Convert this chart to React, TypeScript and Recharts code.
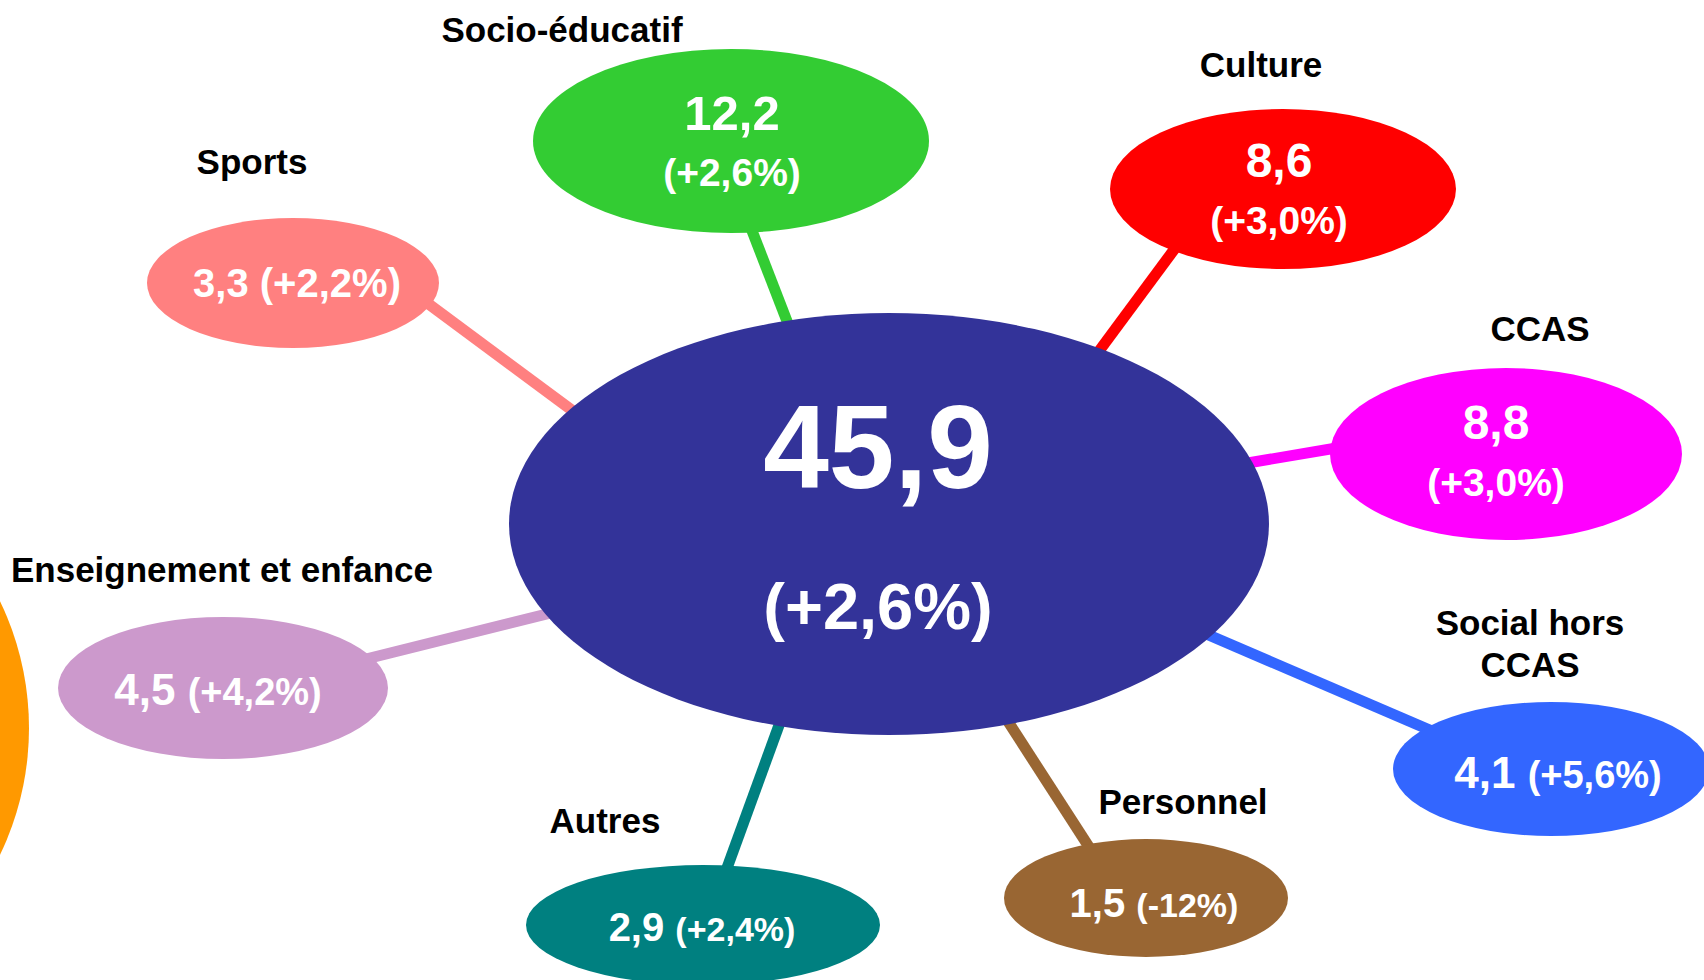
import React from 'react'
import { ScatterChart, Scatter, XAxis, YAxis } from 'recharts'

const W = 1704
const H = 980
const FONT = '"Liberation Sans", Arial, sans-serif'

// chart values
const categories = [
  'Socio-éducatif',
  'Culture',
  'CCAS',
  'Social hors CCAS',
  'Personnel',
  'Autres',
  'Enseignement et enfance',
  'Sports',
]
const amounts = [12.2, 8.6, 8.8, 4.1, 1.5, 2.9, 4.5, 3.3]
const changes = ['+2,6%', '+3,0%', '+3,0%', '+5,6%', '-12%', '+2,4%', '+4,2%', '+2,2%']
const labelLines = [
  ['Socio-éducatif'],
  ['Culture'],
  ['CCAS'],
  ['Social hors', 'CCAS'],
  ['Personnel'],
  ['Autres'],
  ['Enseignement et enfance'],
  ['Sports'],
]
const total = 45.9
const totalChange = '+2,6%'

// layout (pixels, chart domain is 1:1 with the svg)
const colors = ['#33CC33', '#FF0000', '#FF00FF', '#3366FF', '#996633', '#008080', '#CC99CC', '#FF8080']
const bubbleBoxes = [
  { x: 731, y: 141, rx: 198, ry: 92, dx: 1, dy: -29, stacked: true, num: 49, chg: 39 },
  { x: 1283, y: 189, rx: 173, ry: 80, dx: -4, dy: -29, stacked: true, num: 48, chg: 39 },
  { x: 1506, y: 454, rx: 176, ry: 86, dx: -10, dy: -32, stacked: true, num: 48, chg: 39 },
  { x: 1551, y: 769, rx: 158, ry: 67, dx: 7, dy: 3, stacked: false, num: 44, chg: 38 },
  { x: 1146, y: 898, rx: 142, ry: 59, dx: 8, dy: 5, stacked: false, num: 40, chg: 34 },
  { x: 703, y: 925, rx: 177, ry: 60, dx: -1, dy: 2, stacked: false, num: 40, chg: 34 },
  { x: 223, y: 688, rx: 165, ry: 71, dx: -5, dy: 1, stacked: false, num: 44, chg: 38 },
  { x: 293, y: 283, rx: 146, ry: 65, dx: 4, dy: 0, stacked: false, num: 40, chg: 40 },
]
const labelPositions = [
  { x: 562, y: 29 },
  { x: 1261, y: 64 },
  { x: 1540, y: 328 },
  { x: 1530, y: 622 },
  { x: 1183, y: 801 },
  { x: 605, y: 820 },
  { x: 222, y: 569 },
  { x: 252, y: 161 },
]
const connectors = [
  [744, 210, 802, 360],
  [1196, 220, 1085, 370],
  [1230, 466, 1360, 444],
  [1190, 627, 1460, 743],
  [998, 706, 1100, 864],
  [786, 706, 719, 890],
  [350, 663, 575, 607],
  [399, 282, 600, 431],
]
const centerBox = { x: 889, y: 524, rx: 380, ry: 211, dx: -11 }
const sideBubble = { x: -263, y: 728, rx: 292, ry: 292 }

const fmt = (v: number) => v.toFixed(1).replace('.', ',')

const bubbleRows = categories.map((name, i) => ({
  ...bubbleBoxes[i],
  name,
  amount: fmt(amounts[i]),
  change: changes[i],
  color: colors[i],
}))

const labelRows = labelPositions.map((p, i) => ({ ...p, lines: labelLines[i] }))

const renderBubble = (props: any) => {
  const { cx, cy, payload } = props
  const tx = cx + payload.dx
  const ty = cy + payload.dy
  return (
    <g>
      <ellipse cx={cx} cy={cy} rx={payload.rx} ry={payload.ry} fill={payload.color} />
      {payload.stacked ? (
        <text textAnchor="middle" fill="#fff" fontFamily={FONT} fontWeight="bold">
          <tspan x={tx} y={ty + payload.num * 0.36} fontSize={payload.num}>
            {payload.amount}
          </tspan>
          <tspan x={tx} y={ty + 60 + payload.chg * 0.36} fontSize={payload.chg}>
            ({payload.change})
          </tspan>
        </text>
      ) : (
        <text
          x={tx}
          y={ty + payload.num * 0.36}
          textAnchor="middle"
          fill="#fff"
          fontFamily={FONT}
          fontWeight="bold"
        >
          <tspan fontSize={payload.num}>{payload.amount} </tspan>
          <tspan fontSize={payload.chg}>({payload.change})</tspan>
        </text>
      )}
    </g>
  )
}

const renderCenter = (props: any) => {
  const { cx, cy } = props
  return (
    <g>
      <ellipse cx={cx} cy={cy} rx={centerBox.rx} ry={centerBox.ry} fill="#333399" />
      <text x={cx + centerBox.dx} y={cy - 78 + 118 * 0.36} textAnchor="middle" fill="#fff" fontFamily={FONT} fontWeight="bold" fontSize={118}>
        {fmt(total)}
      </text>
      <text x={cx + centerBox.dx} y={cy + 82 + 65 * 0.36} textAnchor="middle" fill="#fff" fontFamily={FONT} fontWeight="bold" fontSize={65}>
        ({totalChange})
      </text>
    </g>
  )
}

const renderSide = (props: any) => (
  <ellipse cx={props.cx} cy={props.cy} rx={sideBubble.rx} ry={sideBubble.ry} fill="#FF9900" />
)

const renderLabel = (props: any) => {
  const { cx, cy, payload } = props
  return (
    <text textAnchor="middle" fill="#000" fontFamily={FONT} fontWeight="bold" fontSize={35}>
      {payload.lines.map((line: string, k: number) => (
        <tspan key={k} x={cx} y={cy + k * 42 + 35 * 0.36}>
          {line}
        </tspan>
      ))}
    </text>
  )
}

const noDot = () => <g />

export default function App() {
  return (
    <div style={{ position: 'absolute', left: 0, top: 0, width: W, height: H, background: '#fff' }}>
      <ScatterChart width={W} height={H} margin={{ top: 0, right: 0, bottom: 0, left: 0 }}>
        <XAxis type="number" dataKey="x" domain={[0, W]} hide allowDataOverflow />
        <YAxis type="number" dataKey="y" domain={[0, H]} reversed hide allowDataOverflow />
        <Scatter data={[sideBubble]} shape={renderSide} isAnimationActive={false} />
        {connectors.map((c, i) => (
          <Scatter
            key={`link-${i}`}
            data={[
              { x: c[0], y: c[1] },
              { x: c[2], y: c[3] },
            ]}
            line={{ stroke: colors[i], strokeWidth: 11 }}
            shape={noDot}
            isAnimationActive={false}
          />
        ))}
        <Scatter data={[centerBox]} shape={renderCenter} isAnimationActive={false} />
        <Scatter data={bubbleRows} shape={renderBubble} isAnimationActive={false} />
        <Scatter data={labelRows} shape={renderLabel} isAnimationActive={false} />
      </ScatterChart>
    </div>
  )
}
